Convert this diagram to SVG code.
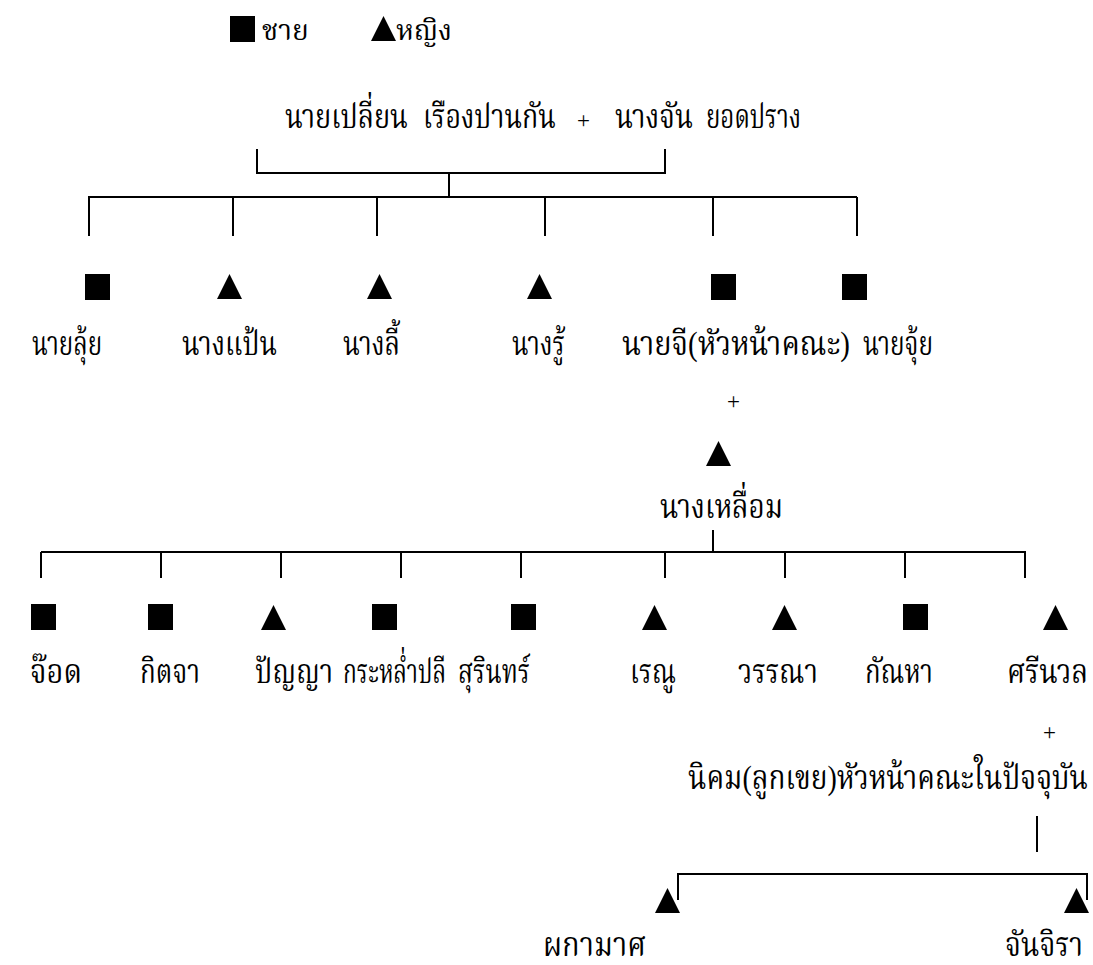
<svg xmlns="http://www.w3.org/2000/svg" width="1093" height="965" viewBox="0 0 1093 965">
<style>
text{font-family:"Liberation Serif","Noto Serif Thai","Noto Sans Thai",serif;font-size:34px;fill:#000;white-space:pre}
.lg{font-size:28px}
.pl{font-size:23px}
.ln{stroke:#000;stroke-width:2;fill:none}
</style>
<defs>
<rect id="sq" x="0" y="0" width="25" height="26" fill="#000"/>
<polygon id="tr" points="12.5,0 25,25 0,25" fill="#000"/>
</defs>
<rect width="1093" height="965" fill="#fff"/>
<g id="legend">
<use href="#sq" x="230" y="16"/>
<text class="lg" x="262" y="40">ชาย</text>
<use href="#tr" x="371" y="16"/>
<text class="lg" x="396" y="40">หญิง</text>
</g>
<g id="connectors" class="ln">
<path d="M257,149 V173 H665 V149 M449,173 V197"/>
<path d="M88,197 H857 M89,197 V236 M233,197 V236 M377,197 V236 M545,197 V236 M713,197 V236 M857,197 V236"/>
<path d="M713,530 V552 M41,552 H1026 M41,552 V578 M161,552 V578 M281,552 V578 M401,552 V578 M521,552 V578 M665,552 V578 M785,552 V578 M905,552 V578 M1025,552 V578"/>
<path d="M1037,816 V852"/>
<path d="M678,900 V874 H1087 V900"/>
</g>
<g id="parents"><text y="128"><tspan x="285" textLength="123" lengthAdjust="spacingAndGlyphs">นายเปลี่ยน</tspan><tspan x="423" textLength="133" lengthAdjust="spacingAndGlyphs">เรืองปานกัน</tspan><tspan x="577" class="pl">+</tspan><tspan x="615" textLength="78" lengthAdjust="spacingAndGlyphs">นางจัน</tspan><tspan x="706" textLength="95" lengthAdjust="spacingAndGlyphs">ยอดปราง</tspan></text></g>
<g id="n1"><use href="#sq" x="85" y="274"/><text x="32" y="355" textLength="70" lengthAdjust="spacingAndGlyphs">นายลุ้ย</text></g>
<g id="n2"><use href="#tr" x="217" y="274"/><text x="182" y="355" textLength="95" lengthAdjust="spacingAndGlyphs">นางแป้น</text></g>
<g id="n3"><use href="#tr" x="367" y="274"/><text x="343" y="355" textLength="57" lengthAdjust="spacingAndGlyphs">นางลี้</text></g>
<g id="n4"><use href="#tr" x="527" y="274"/><text x="512" y="355" textLength="53" lengthAdjust="spacingAndGlyphs">นางรู้</text></g>
<g id="n5"><use href="#sq" x="711" y="274"/><text x="622" y="355" textLength="228" lengthAdjust="spacingAndGlyphs">นายจี(หัวหน้าคณะ)</text></g>
<g id="n6"><use href="#sq" x="842" y="274"/><text x="863" y="355" textLength="70" lengthAdjust="spacingAndGlyphs">นายจุ้ย</text></g>
<g id="spouse1"><text class="pl" x="727" y="409">+</text><use href="#tr" x="706" y="441"/><text x="660" y="518" textLength="123" lengthAdjust="spacingAndGlyphs">นางเหลื่อม</text></g>
<g id="c1"><use href="#sq" x="31" y="604"/><text x="30" y="683" textLength="52" lengthAdjust="spacingAndGlyphs">จ๊อด</text></g>
<g id="c2"><use href="#sq" x="148" y="604"/><text x="140" y="683" textLength="60" lengthAdjust="spacingAndGlyphs">กิตจา</text></g>
<g id="c3"><use href="#tr" x="261" y="605"/><text x="255" y="683" textLength="78" lengthAdjust="spacingAndGlyphs">ปัญญา</text></g>
<g id="c4"><use href="#sq" x="372" y="604"/><text x="343" y="683" textLength="103" lengthAdjust="spacingAndGlyphs">กระหล่ำปลี</text></g>
<g id="c5"><use href="#sq" x="511" y="604"/><text x="458" y="683" textLength="72" lengthAdjust="spacingAndGlyphs">สุรินทร์</text></g>
<g id="c6"><use href="#tr" x="642" y="605"/><text x="630" y="683" textLength="46" lengthAdjust="spacingAndGlyphs">เรณู</text></g>
<g id="c7"><use href="#tr" x="772" y="605"/><text x="738" y="683" textLength="80" lengthAdjust="spacingAndGlyphs">วรรณา</text></g>
<g id="c8"><use href="#sq" x="903" y="604"/><text x="865" y="683" textLength="68" lengthAdjust="spacingAndGlyphs">กัณหา</text></g>
<g id="c9"><use href="#tr" x="1043" y="605"/><text x="1007" y="683" textLength="81" lengthAdjust="spacingAndGlyphs">ศรีนวล</text></g>
<g id="spouse2"><text class="pl" x="1043" y="740">+</text><text x="688" y="789" textLength="400" lengthAdjust="spacingAndGlyphs">นิคม(ลูกเขย)หัวหน้าคณะในปัจจุบัน</text></g>
<g id="g1"><use href="#tr" x="655" y="888"/><text x="543" y="956" textLength="103" lengthAdjust="spacingAndGlyphs">ผกามาศ</text></g>
<g id="g2"><use href="#tr" x="1064" y="888"/><text x="1005" y="956" textLength="78" lengthAdjust="spacingAndGlyphs">จันจิรา</text></g>
</svg>
